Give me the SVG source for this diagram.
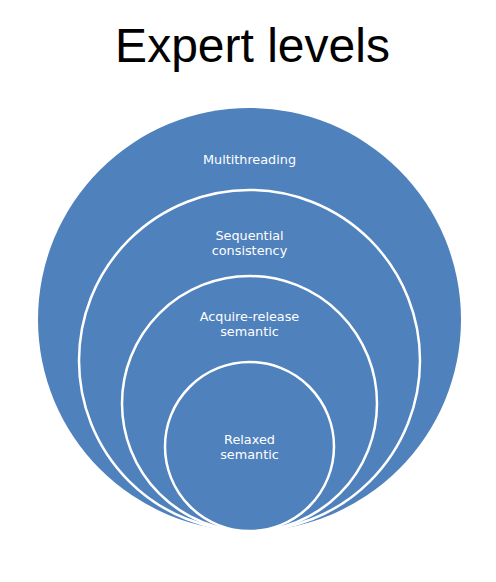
<svg xmlns="http://www.w3.org/2000/svg" width="496" height="582" viewBox="0 0 496 582">
<style>
.c{fill:#4F81BD}
.s{stroke:#FFFFFF;stroke-width:2.5}
.t{font-family:"DejaVu Sans","Open Sans",sans-serif;font-size:12.8px;fill:#FFFFFF;text-anchor:middle}
.h{font-family:"Liberation Sans",Arial,sans-serif;font-size:48px;fill:#000000;text-anchor:middle}
</style>
<rect width="496" height="582" fill="#FFFFFF"/>
<text class="h" x="252.5" y="62">Expert levels</text>
<g id="multithreading">
<circle class="c" cx="249.5" cy="319.5" r="211.5"/>
<text class="t" x="249.5" y="164">Multithreading</text>
</g>
<g id="sequential">
<circle class="c s" cx="249.5" cy="360.5" r="170.5"/>
<text class="t" x="249.5" y="239.5">Sequential</text>
<text class="t" x="249.5" y="255">consistency</text>
</g>
<g id="acquire">
<circle class="c s" cx="249.5" cy="403.5" r="127.5"/>
<text class="t" x="249.5" y="320.5">Acquire-release</text>
<text class="t" x="249.5" y="336">semantic</text>
</g>
<g id="relaxed">
<circle class="c s" cx="249.5" cy="446.5" r="84.5"/>
<text class="t" x="249.5" y="443.5">Relaxed</text>
<text class="t" x="249.5" y="459">semantic</text>
</g>
<g id="connectors"></g>
</svg>
